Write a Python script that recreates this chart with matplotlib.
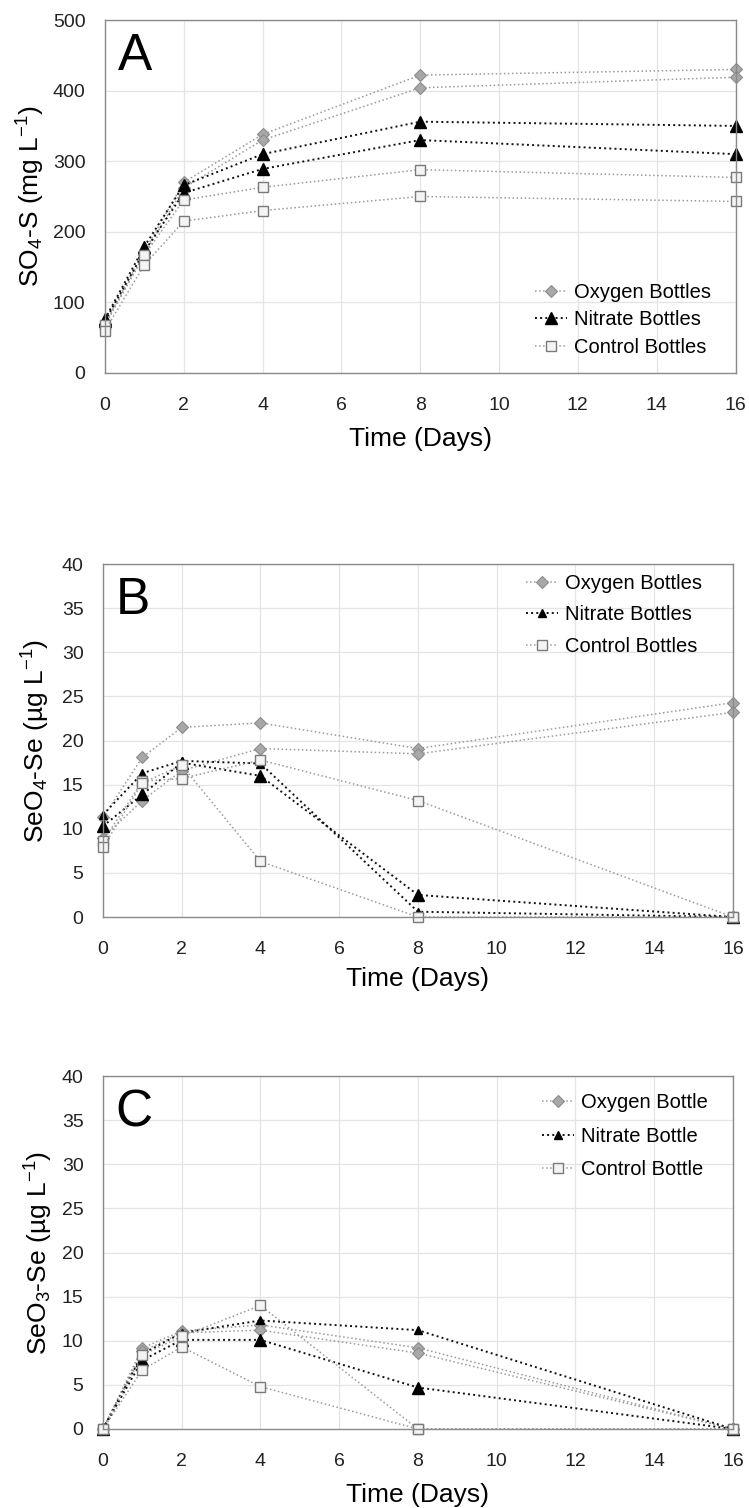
import numpy as np
import matplotlib.pyplot as plt

plt.rcParams['font.family'] = ['Liberation Sans', 'DejaVu Sans']
plt.rcParams['mathtext.fontset'] = 'custom'
plt.rcParams['mathtext.rm'] = 'Liberation Sans'
plt.rcParams['mathtext.it'] = 'Liberation Sans'

days = [0, 1, 2, 4, 8, 16]

# A: sulfate (mg/L), two bottles per treatment
so4_oxygen = [[70, 172, 270, 338, 422, 430], [68, 168, 262, 330, 404, 419]]
so4_nitrate = [[76, 179, 266, 310, 356, 350], [74, 172, 255, 289, 330, 310]]
so4_control = [[68, 167, 245, 263, 288, 277], [60, 153, 215, 230, 250, 243]]

# B: selenate (ug/L)
seo4_oxygen = [[11.3, 18.1, 21.5, 22.0, 19.1, 24.3], [9.0, 13.2, 16.6, 19.1, 18.5, 23.2]]
seo4_nitrate = [[11.6, 16.3, 17.7, 17.4, 0.6, 0.0], [10.3, 13.9, 17.5, 16.0, 2.5, 0.0]]
seo4_control = [[8.6, 15.4, 15.7, 17.8, 13.2, 0.0], [7.9, 15.2, 17.2, 6.3, 0.0, 0.0]]

# C: selenite (ug/L)
seo3_oxygen = [[0, 9.2, 11.1, 11.8, 9.2, 0], [0, 8.8, 10.9, 11.2, 8.6, 0]]
seo3_nitrate = [[0, 8.5, 10.9, 12.3, 11.2, 0], [0, 7.8, 10.1, 10.1, 4.7, 0]]
seo3_control = [[0, 8.4, 10.5, 14.0, 0, 0], [0, 6.7, 9.3, 4.8, 0, 0]]

x_ticks = [0, 2, 4, 6, 8, 10, 12, 14, 16]
bottles_names = ['Oxygen Bottles', 'Nitrate Bottles', 'Control Bottles']
bottle_names = ['Oxygen Bottle', 'Nitrate Bottle', 'Control Bottle']

fig = plt.figure(figsize=(7.49, 15.08), dpi=100)
ax_a = fig.add_axes([0.140, 0.7527, 0.842, 0.234])
ax_b = fig.add_axes([0.1375, 0.3919, 0.841, 0.234])
ax_c = fig.add_axes([0.1375, 0.0524, 0.841, 0.234])

ox_style = dict(color='#9a9a9a', ls=':', lw=1.1, marker='D', mfc='#a8a8a8',
                mec='#8c8c8c', mew=0.8)
ni_style = dict(color='#111111', ls=':', lw=1.4, marker='^', mfc='black',
                mec='black')
co_style = dict(color='#9a9a9a', ls=':', lw=1.1, marker='s', mfc='#f4f4f4',
                mec='#7a7a7a', mew=1.0)


def draw_panel(ax, oxy, nit, ctl, tri_sizes, ms_d=6.5, ms_s=7.5, xpad=10):
    lines = []
    for i, rep in enumerate(oxy):
        l, = ax.plot(days, rep, ms=ms_d, **ox_style)
        if i == 0:
            lines.append(l)
    for i, rep in enumerate(nit):
        l, = ax.plot(days, rep, ms=tri_sizes[i], **ni_style)
        if i == 0:
            lines.append(l)
    for i, rep in enumerate(ctl):
        l, = ax.plot(days, rep, ms=ms_s, **co_style)
        if i == 0:
            lines.append(l)
    ax.set_xlim(0, 16)
    ax.set_xticks(x_ticks)
    ax.grid(True, color='#e4e4e4', lw=0.9)
    ax.set_axisbelow(True)
    for s in ax.spines.values():
        s.set_color('#8a8a8a')
        s.set_linewidth(1.0)
    ax.tick_params(length=0, labelsize=14, colors='#222222')
    ax.tick_params(axis='x', pad=17)
    ax.tick_params(axis='y', pad=14)
    ax.set_xlabel('Time (Days)', fontsize=19, labelpad=xpad)
    for l in ax.get_lines():
        l.set_clip_on(False)
    return lines


def add_legend(ax, lines, names, x, y, spacing):
    ax.legend(lines, names, loc='center left', bbox_to_anchor=(x, y),
              frameon=False, fontsize=14.5, handlelength=1.6,
              handletextpad=0.35, labelspacing=spacing, borderaxespad=0)


lines_a = draw_panel(ax_a, so4_oxygen, so4_nitrate, so4_control, [8, 8], xpad=10)
ax_a.set_ylim(0, 500)
ax_a.set_yticks(np.arange(0, 501, 100))
ax_a.set_ylabel('SO$_4$-S (mg L$^{-1}$)', fontsize=19, labelpad=4)
add_legend(ax_a, lines_a, bottles_names, 0.669, 0.150, 0.42)
ax_a.text(0.02, 0.965, 'A', transform=ax_a.transAxes, fontsize=37,
          va='top', ha='left')

lines_b = draw_panel(ax_b, seo4_oxygen, seo4_nitrate, seo4_control, [6, 8], xpad=7)
ax_b.set_ylim(0, 40)
ax_b.set_yticks(np.arange(0, 41, 5))
ax_b.set_ylabel('SeO$_4$-Se (µg L$^{-1}$)', fontsize=19, labelpad=7)
add_legend(ax_b, lines_b, bottles_names, 0.659, 0.856, 0.62)
ax_b.text(0.02, 0.965, 'B', transform=ax_b.transAxes, fontsize=37,
          va='top', ha='left')

lines_c = draw_panel(ax_c, seo3_oxygen, seo3_nitrate, seo3_control, [6, 8], xpad=10)
ax_c.set_ylim(0, 40)
ax_c.set_yticks(np.arange(0, 41, 5))
ax_c.set_ylabel('SeO$_3$-Se (µg L$^{-1}$)', fontsize=19, labelpad=5)
add_legend(ax_c, lines_c, bottle_names, 0.684, 0.830, 0.70)
ax_c.text(0.02, 0.965, 'C', transform=ax_c.transAxes, fontsize=37,
          va='top', ha='left')

fig.savefig('out.png', dpi=100)
